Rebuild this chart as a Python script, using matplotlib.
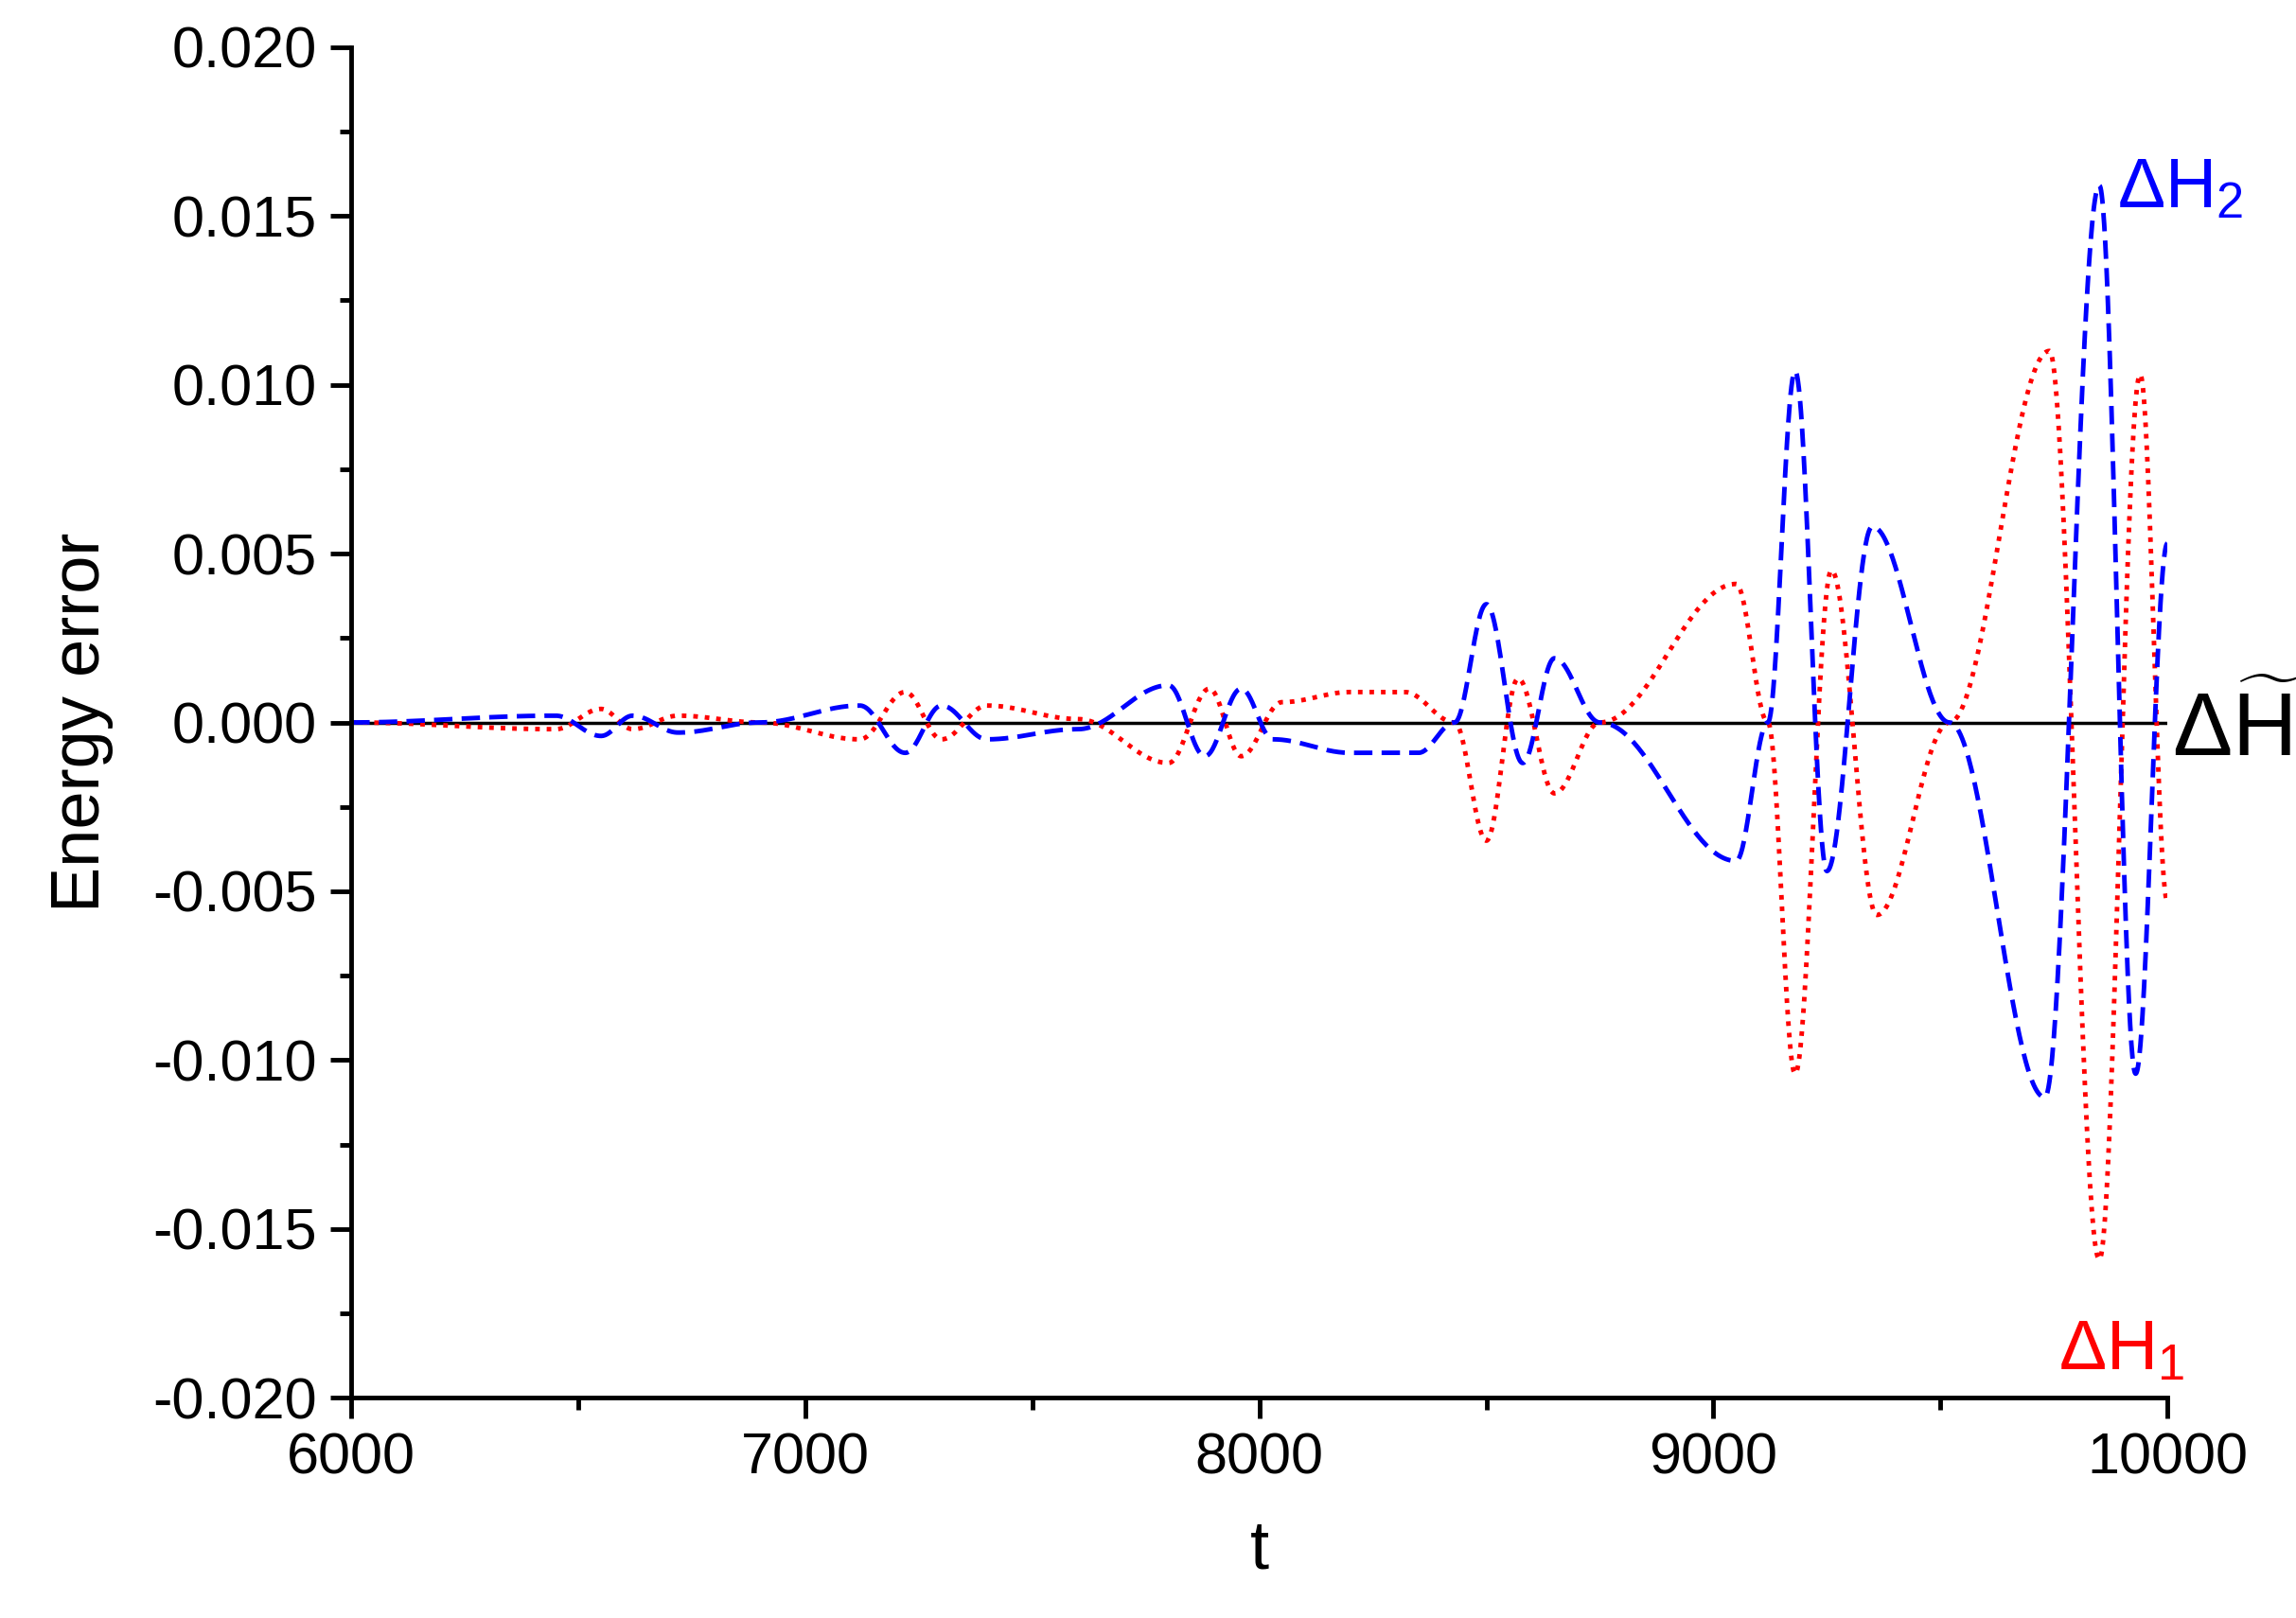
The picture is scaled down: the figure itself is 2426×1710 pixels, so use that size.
import numpy as np
import matplotlib
matplotlib.use("Agg")
import matplotlib.pyplot as plt
from matplotlib.ticker import MultipleLocator

plt.rcParams['font.family'] = ['Liberation Sans', 'DejaVu Sans']
plt.rcParams['mathtext.fontset'] = 'custom'
plt.rcParams['mathtext.rm'] = 'Liberation Sans'
plt.rcParams['mathtext.it'] = 'Liberation Sans'

# extrema (t, value)
blue_t = [6000, 6450, 6550, 6620, 6720, 6900, 7120, 7220, 7300, 7400, 7600, 7800, 7880, 7960, 8030,
          8200, 8350, 8430, 8500, 8580, 8650, 8750, 9050, 9120, 9180, 9250, 9350, 9520, 9730, 9850, 9930, 10000]
blue_v = [0, 0.0002, -0.0004, 0.0002, -0.0003, 0, 0.0005, -0.0009, 0.0005, -0.0005, -0.0002, 0.0011, -0.001, 0.001, -0.0005,
          -0.0009, -0.0009, 0, 0.0035, -0.0012, 0.0019, 0, -0.0041, 0, 0.0104, -0.0044, 0.0058, 0, -0.0111, 0.0159, -0.0104, 0.0053]
red_t = [6000, 6450, 6550, 6620, 6720, 6900, 7120, 7220, 7300, 7400, 7600, 7800, 7890, 7960, 8050,
         8200, 8320, 8430, 8500, 8570, 8650, 8750, 9050, 9120, 9180, 9260, 9360, 9520, 9740, 9850, 9940, 10000]
red_v = [0, -0.0002, 0.0004, -0.0002, 0.0002, 0, -0.0005, 0.0009, -0.0005, 0.0005, 0.0001, -0.0012, 0.001, -0.001, 0.0006,
         0.0009, 0.0009, 0, -0.0035, 0.0013, -0.0021, 0, 0.0041, 0, -0.0104, 0.0045, -0.0057, 0, 0.011, -0.0159, 0.0103, -0.0053]
x_ticks = [6000, 7000, 8000, 9000, 10000]
y_ticks = [-0.020, -0.015, -0.010, -0.005, 0.000, 0.005, 0.010, 0.015, 0.020]

def smooth(ts, vs, n=60):
    xs, ys = [], []
    for i in range(len(ts) - 1):
        s = np.linspace(0, 1, n, endpoint=False)
        w = (1 - np.cos(np.pi * s)) / 2
        xs.append(ts[i] + (ts[i + 1] - ts[i]) * s)
        ys.append(vs[i] + (vs[i + 1] - vs[i]) * w)
    xs.append([ts[-1]]); ys.append([vs[-1]])
    return np.concatenate(xs), np.concatenate(ys)

fig = plt.figure(figsize=(24.26, 17.10), dpi=100)
ax = fig.add_axes([0.153, 0.136, 0.791, 0.835])
bx, by = smooth(blue_t, blue_v)
rx, ry = smooth(red_t, red_v)
ax.plot([6000, 10000], [0, 0], color='black', lw=2.5)
ax.plot(rx, ry, color='red', lw=3.5, linestyle=(0, (1, 1.5)))
ax.plot(bx, by, color='blue', lw=3.5, linestyle=(0, (4, 2)))

ax.set_xlim(6000, 10000)
ax.set_ylim(-0.02, 0.02)
ax.set_xticks(x_ticks)
ax.set_yticks(y_ticks)
ax.set_yticklabels([f"{v:.3f}" for v in y_ticks])
ax.xaxis.set_minor_locator(MultipleLocator(500))
ax.yaxis.set_minor_locator(MultipleLocator(0.0025))
for s in ['top', 'right']:
    ax.spines[s].set_visible(False)
for s in ['left', 'bottom']:
    ax.spines[s].set_linewidth(3.5)
ax.tick_params(which='major', direction='out', length=16, width=3.5, labelsize=44, pad=10)
ax.tick_params(which='minor', direction='out', length=9, width=3.5)
ax.set_xlabel('t', fontsize=52, labelpad=25)
ax.set_ylabel('Energy error', fontsize=52, labelpad=30)

ax.text(9890, 0.0158, r'$\Delta$H$_2$', color='blue', fontsize=54, va='center')
ax.text(9760, -0.0186, r'$\Delta$H$_1$', color='red', fontsize=54, va='center')
ax.text(10010, -0.0003, r'$\Delta\widetilde{\mathrm{H}}$', color='black', fontsize=68, va='center', clip_on=False)

fig.savefig('out.png', dpi=100)
